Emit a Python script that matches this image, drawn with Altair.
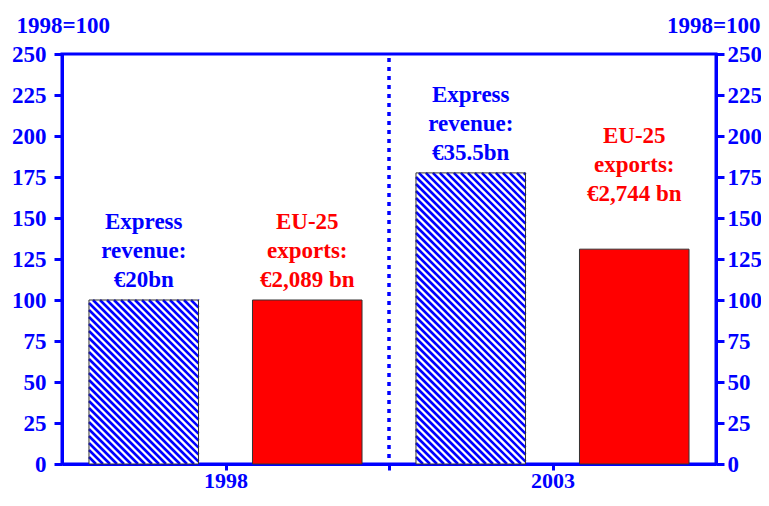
import altair as alt
import pandas as pd

# ---- data ----
years = ["1998", "2003"]
express_index = [100, 177.5]
exports_index = [100, 131]
express_labels = ["Express\nrevenue:\n€20bn", "Express\nrevenue:\n€35.5bn"]
exports_labels = ["EU-25\nexports:\n€2,089 bn", "EU-25\nexports:\n€2,744 bn"]
y_ticks = list(range(0, 251, 25))

BLUE = "#0000FF"
RED = "#FF0000"
FONT = "Liberation Serif"
W, H = 654, 410
X_MAX, Y_MAX = 4, 250
HALF = 0.335
LINE_H = 29

rows = []
for i, yr in enumerate(years):
    rows.append(dict(year=yr, series="Express", pos=2 * i + 0.5, value=express_index[i],
                     label=express_labels[i]))
    rows.append(dict(year=yr, series="Exports", pos=2 * i + 1.5, value=exports_index[i],
                     label=exports_labels[i]))
df = pd.DataFrame(rows)
df["x0"] = df["pos"] - HALF
df["x1"] = df["pos"] + HALF
df["zero"] = 0

# hatch segments derived from the express bars (pixel-space 45deg lines converted to data units)
px_x = W / X_MAX
px_y = H / Y_MAX
period = 7.0
hatch = []
for _, r in df[df.series == "Express"].iterrows():
    L, R = r.x0 * px_x, r.x1 * px_x
    top = r.value * px_y
    c = L
    while c < R + top:
        xa = max(L, c - top)
        xb = min(R, c)
        if xb > xa:
            hatch.append(dict(hx=xa / px_x, hy=(c - xa) / px_y, hx2=xb / px_x, hy2=(c - xb) / px_y))
        c += period
hdf = pd.DataFrame(hatch)

xscale = alt.Scale(domain=[0, X_MAX], nice=False, zero=False)
yscale = alt.Scale(domain=[0, Y_MAX], nice=False)

def yaxis(orient, title_x, title_align, label_pad):
    return alt.Axis(orient=orient, values=y_ticks, grid=False, title="1998=100",
                    titleAngle=0, titleX=title_x, titleY=-40, titleAlign=title_align,
                    titleBaseline="top", titleFont=FONT, titleFontSize=23,
                    titleFontWeight="bold", titleColor=BLUE,
                    labelFont=FONT, labelFontSize=23, labelFontWeight="bold",
                    labelColor=BLUE, labelPadding=label_pad, tickSize=8, tickWidth=3,
                    tickColor=BLUE, domainColor=BLUE, domainWidth=3)

xaxis = alt.Axis(values=[1, 2, 3], grid=False, title=None,
                 labelExpr="datum.value == 1 ? '1998' : datum.value == 3 ? '2003' : ''",
                 labelFont=FONT, labelFontSize=22, labelFontWeight="bold",
                 labelColor=BLUE, labelPadding=0, tickSize=6, tickWidth=3,
                 tickColor=BLUE, domainColor=BLUE, domainWidth=3)

base = alt.Chart(df)

express_bg = base.transform_filter("datum.series == 'Express'").mark_rect(fill="white").encode(
    x=alt.X("x0:Q", scale=xscale, axis=xaxis),
    x2="x1:Q",
    y=alt.Y("value:Q", scale=yscale, axis=yaxis("left", -46, "left", 8)),
    y2="zero:Q",
)

hatch_layer = alt.Chart(hdf).mark_rule(color=BLUE, strokeWidth=2.6).encode(
    x=alt.X("hx:Q", scale=xscale), y=alt.Y("hy:Q", scale=yscale),
    x2="hx2:Q", y2="hy2:Q",
)

outline = base.mark_rect(strokeWidth=1, stroke="#333333").encode(
    x=alt.X("x0:Q", scale=xscale), x2="x1:Q",
    y=alt.Y("value:Q", scale=yscale), y2="zero:Q",
    fill=alt.condition("datum.series == 'Express'", alt.value("transparent"), alt.value(RED)),
)

divider = alt.Chart(pd.DataFrame({"d": [2]})).mark_rule(
    color=BLUE, strokeWidth=3.5, strokeDash=[4, 5]
).encode(x=alt.X("d:Q", scale=xscale), y=alt.value(4), y2=alt.value(H))

txt_kw = dict(font=FONT, fontSize=23, fontWeight="bold", lineBreak="\n",
              lineHeight=LINE_H, align="center", baseline="alphabetic")

labels_main = base.transform_filter(
    "!(datum.series == 'Exports' && datum.year == '2003')"
).mark_text(dy=-13 - 2 * LINE_H, **txt_kw).encode(
    x=alt.X("pos:Q", scale=xscale), y=alt.Y("value:Q", scale=yscale),
    text="label:N",
    color=alt.condition("datum.series == 'Express'", alt.value(BLUE), alt.value(RED)),
)

labels_high = base.transform_filter(
    "datum.series == 'Exports' && datum.year == '2003'"
).mark_text(dy=-48 - 2 * LINE_H, color=RED, **txt_kw).encode(
    x=alt.X("pos:Q", scale=xscale), y=alt.Y("value:Q", scale=yscale),
    text="label:N",
)

right_axis = alt.Chart(pd.DataFrame({"v": [0]})).mark_point(opacity=0).encode(
    x=alt.X("v:Q", scale=xscale),
    y=alt.Y("v:Q", scale=yscale, axis=yaxis("right", 44, "right", 3)),
)

left = alt.layer(express_bg, hatch_layer, outline, divider, labels_main, labels_high)

chart = alt.layer(left, right_axis).resolve_scale(y="independent").properties(
    width=W, height=H,
    background="white",
    autosize=alt.AutoSizeParams(type="none"),
    padding={"left": 54, "top": 46, "right": 45, "bottom": 29},
).configure_view(stroke=BLUE, strokeWidth=3)

chart.save("out.html", embed_options={"renderer": "svg", "actions": False})
